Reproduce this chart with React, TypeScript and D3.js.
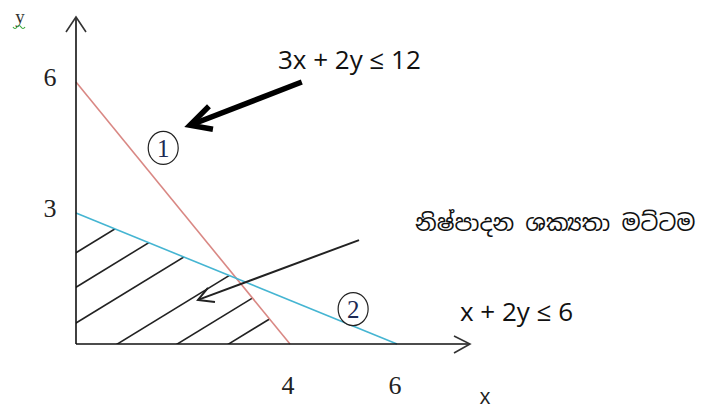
import React, { useRef, useEffect } from 'react';
import * as d3 from 'd3';

// constraint lines, as [x, y] end points on the axes
const line1 = [[0, 6], [4, 0]];   // 3x + 2y <= 12
const line2 = [[0, 3], [6, 0]];   // x + 2y <= 6
const feasible = [[0, 0], [0, 3], [3, 1.5], [4, 0]];

const yTicks = [6, 3];
const xTicks = [4, 6];

// hatch lines: y = b + 0.75 x, clipped to the feasible region
const hatchSlope = 0.75;
const hatchOffsets = [2.09, 1.3, 0.48, -0.58, -1.42, -2.14];

const label1 = '3x + 2y ≤ 12';
const label2 = 'x + 2y ≤ 6';
const ppfLabel = 'නිෂ්පාදන ශක්‍යතා මට්ටම';

const App = () => {
  const ref = useRef(null);
  const width = 702;
  const height = 409;

  useEffect(() => {
    const svg = d3.select(ref.current)
      .attr('width', width)
      .attr('height', height)
      .style('background-color', 'white');

    svg.selectAll('*').remove();

    const x = d3.scaleLinear().domain([0, 6]).range([76, 397]);
    const y = d3.scaleLinear().domain([0, 6]).range([344, 82]);

    const line = d3.line()
      .x(d => x(d[0]))
      .y(d => y(d[1]));

    // clip for the hatching
    svg.append('clipPath').attr('id', 'feas')
      .append('path')
      .attr('d', line(feasible) + 'Z');

    const hatch = svg.append('g').attr('clip-path', 'url(#feas)');
    hatchOffsets.forEach(b => {
      hatch.append('path')
        .attr('d', line([[-1, b - hatchSlope], [6, b + hatchSlope * 6]]))
        .style('fill', 'none')
        .style('stroke', '#222')
        .style('stroke-width', 1.6);
    });

    // constraint lines
    svg.append('path').attr('d', line(line1))
      .style('fill', 'none').style('stroke', '#d98884').style('stroke-width', 1.6);
    svg.append('path').attr('d', line(line2))
      .style('fill', 'none').style('stroke', '#45b5d2').style('stroke-width', 1.6);

    // axes with open arrow heads
    const axes = svg.append('g').style('stroke', '#111').style('fill', 'none').style('stroke-width', 1.6);
    axes.append('path').attr('d', `M${x(0)},${y(0)}V17`);
    axes.append('path').attr('d', `M${x(0) - 10},32L${x(0)},17L${x(0) + 10},32`).style('stroke', '#333');
    axes.append('path').attr('d', `M${x(0)},${y(0)}H470`);
    axes.append('path').attr('d', `M454,336L470,344L454,353`).style('stroke', '#333');

    // tick labels
    svg.append('g').selectAll('text').data(yTicks).enter().append('text')
      .attr('x', x(0) - 26)
      .attr('y', d => y(d) + 4)
      .attr('text-anchor', 'middle')
      .style('font-family', 'Liberation Serif, serif')
      .style('font-size', '26px')
      .style('fill', '#222')
      .text(d => d);

    svg.append('g').selectAll('text').data(xTicks).enter().append('text')
      .attr('x', d => x(d) - 2)
      .attr('y', 394)
      .attr('text-anchor', 'middle')
      .style('font-family', 'Liberation Serif, serif')
      .style('font-size', '26px')
      .style('fill', '#222')
      .text(d => d);

    // axis names
    svg.append('text').attr('x', 20).attr('y', 23)
      .attr('text-anchor', 'middle')
      .style('font-family', 'Liberation Serif, serif')
      .style('font-size', '19px')
      .style('fill', '#333')
      .text('y');
    svg.append('path')
      .attr('d', 'M13,27q2,3 4,0t4,0t4,0')
      .style('fill', 'none').style('stroke', '#3aa83a').style('stroke-width', 1.2);

    svg.append('text').attr('x', 485).attr('y', 404)
      .attr('text-anchor', 'middle')
      .style('font-family', 'Open Sans, sans-serif')
      .style('font-size', '21px')
      .style('fill', '#222')
      .text('x');

    // circled numbers
    const circled = [[1.63, 4.49, '1'], [5.18, 0.8, '2']];
    circled.forEach(c => {
      const g = svg.append('g').attr('transform', `translate(${x(c[0])},${y(c[1])})`);
      g.append('ellipse').attr('rx', 15).attr('ry', 16.5)
        .style('fill', 'white').style('stroke', '#222').style('stroke-width', 1.2);
      g.append('text').attr('y', 9)
        .attr('text-anchor', 'middle')
        .style('font-family', 'Liberation Serif, serif')
        .style('font-size', '25px')
        .style('fill', '#1c2a55')
        .text(c[2]);
    });

    // equation labels
    svg.append('text').attr('x', 278).attr('y', 69)
      .style('font-family', 'Open Sans, sans-serif')
      .style('font-size', '26px')
      .style('fill', '#111')
      .text(label1);
    svg.append('text').attr('x', 460).attr('y', 321)
      .style('font-family', 'Open Sans, sans-serif')
      .style('font-size', '26px')
      .style('fill', '#111')
      .text(label2);

    svg.append('text').attr('x', 415).attr('y', 231)
      .style('font-family', 'Noto Sans Sinhala, Iskoola Pota, Noto Sans, sans-serif')
      .style('font-size', '22.5px')
      .style('fill', '#111')
      .text(ppfLabel);

    // thick arrow to region 1
    const a1 = [[4.22, 6.0], [2.13, 5.01]];
    svg.append('path').attr('d', line(a1))
      .style('fill', 'none').style('stroke', '#000').style('stroke-width', 5.5);
    const t1x = x(a1[1][0]), t1y = y(a1[1][1]);
    svg.append('path')
      .attr('d', `M${t1x + 19},${t1y - 19}L${t1x},${t1y}L${t1x + 23},${t1y + 4}`)
      .style('fill', 'none').style('stroke', '#000').style('stroke-width', 5.5)
      .style('stroke-linejoin', 'miter');

    // thin arrow to the PPF point
    const a2 = [[5.29, 2.38], [2.28, 1.01]];
    svg.append('path').attr('d', line(a2))
      .style('fill', 'none').style('stroke', '#222').style('stroke-width', 2);
    const t2x = x(a2[1][0]), t2y = y(a2[1][1]);
    svg.append('path')
      .attr('d', `M${t2x + 10},${t2y - 12}L${t2x},${t2y}L${t2x + 17},${t2y + 2}`)
      .style('fill', 'none').style('stroke', '#222').style('stroke-width', 2);
  }, []);

  return (
    <svg ref={ref} style={{ position: 'absolute', left: 0, top: 0 }}></svg>
  );
};

export default App;
